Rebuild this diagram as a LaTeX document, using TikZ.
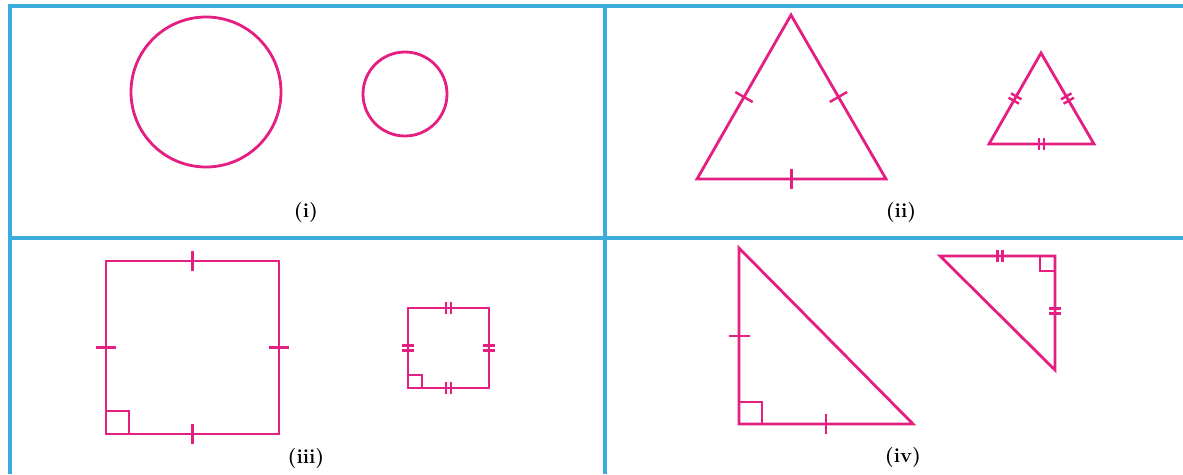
\documentclass[tikz,border=0pt]{standalone}
\usetikzlibrary{decorations.markings}
\definecolor{pinkline}{RGB}{229,30,130}
\definecolor{blueline}{RGB}{58,172,220}
\begin{document}
\begin{tikzpicture}[x=0.02cm,y=-0.02cm,
  fig/.style={draw=pinkline, line width=1.6pt, line join=miter},
  grid/.style={draw=blueline, line width=2.1pt},
  lbl/.style={font=\fontsize{11.5}{13}\selectfont\bfseries, inner sep=0pt},
  tk/.style={draw=pinkline, line width=1.4pt},
  onetick/.style={postaction={decorate}, decoration={markings, mark=at position 0.5 with {\draw[tk] (0,-10)--(0,10);}}},
  twotick/.style={postaction={decorate}, decoration={markings, mark=at position 0.5 with {\draw[tk] (-2.5,-6)--(-2.5,6) (2.5,-6)--(2.5,6);}}}
]
\useasboundingbox (0,0) rectangle (1183,474);
% grid
\draw[grid] (10,474) -- (10,6) -- (1183,6);
\draw[grid] (10,238) -- (1183,238);
\draw[grid] (605,6) -- (605,474);

% (i) circles
\draw[fig] (206,92) circle (75);
\draw[fig] (405,94) circle (42);
\node[lbl] (li) at (306,212) {(i)};

% (ii) equilateral triangles
\coordinate (A1) at (791,15);
\coordinate (B1) at (697,179);
\coordinate (C1) at (886,179);
\draw[fig] (A1) -- (B1) -- (C1) -- cycle;
\path[onetick] (B1) -- (A1);
\path[onetick] (A1) -- (C1);
\path[onetick] (B1) -- (C1);
\coordinate (A2) at (1041,53);
\coordinate (B2) at (989,144);
\coordinate (C2) at (1094,144);
\draw[fig] (A2) -- (B2) -- (C2) -- cycle;
\path[twotick] (B2) -- (A2);
\path[twotick] (A2) -- (C2);
\path[twotick] (B2) -- (C2);
\node[lbl] (lii) at (901,212) {(ii)};

% (iii) squares
\coordinate (S1a) at (106,261);
\coordinate (S1b) at (279,261);
\coordinate (S1c) at (279,434);
\coordinate (S1d) at (106,434);
\draw[fig] (S1a) -- (S1b) -- (S1c) -- (S1d) -- cycle;
\path[onetick] (S1a) -- (S1b);
\path[onetick] (S1b) -- (S1c);
\path[onetick] (S1d) -- (S1c);
\path[onetick] (S1a) -- (S1d);
\draw[fig] (106,411) -- (129,411) -- (129,434);
\coordinate (S2a) at (408,308);
\coordinate (S2b) at (489,308);
\coordinate (S2c) at (489,388);
\coordinate (S2d) at (408,388);
\draw[fig] (S2a) -- (S2b) -- (S2c) -- (S2d) -- cycle;
\path[twotick] (S2a) -- (S2b);
\path[twotick] (S2b) -- (S2c);
\path[twotick] (S2d) -- (S2c);
\path[twotick] (S2a) -- (S2d);
\draw[fig] (408,375) -- (422,375) -- (422,388);
\node[lbl] (liii) at (306,458) {(iii)};

% (iv) right triangles
\coordinate (T1a) at (739,248);
\coordinate (T1b) at (739,424);
\coordinate (T1c) at (913,424);
\draw[fig] (T1a) -- (T1b) -- (T1c) -- cycle;
\draw[tk] (729,336) -- (750,336);
\path[onetick] (T1b) -- (T1c);
\draw[fig] (739,402) -- (762,402) -- (762,424);
\coordinate (T2a) at (940,256);
\coordinate (T2b) at (1055,256);
\coordinate (T2c) at (1055,370);
\draw[fig] (T2a) -- (T2b) -- (T2c) -- cycle;
\draw[tk] (997.5,250) -- (997.5,262) (1002.5,250) -- (1002.5,262);
\draw[tk] (1049,308.5) -- (1061,308.5) (1049,313.5) -- (1061,313.5);
\draw[fig] (1040,256) -- (1040,271) -- (1055,271);
\node[lbl] (liv) at (903,457) {(iv)};
\end{tikzpicture}
\end{document}
